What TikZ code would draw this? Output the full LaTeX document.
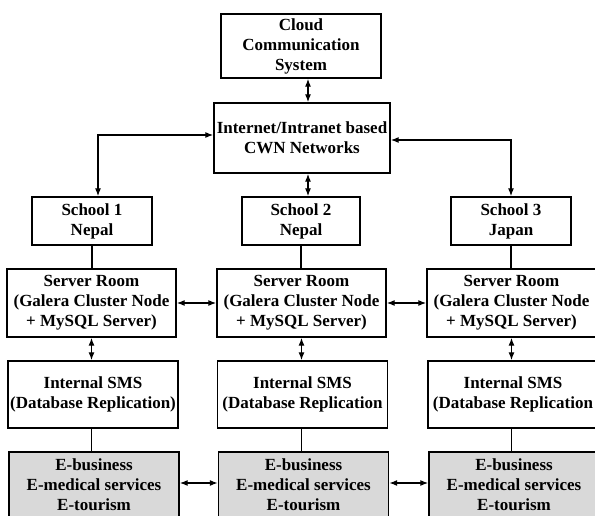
\documentclass[tikz,border=0pt]{standalone}
\usepackage{fontspec}
\setmainfont{Liberation Serif}
\usepackage{tikz}
\usetikzlibrary{arrows.meta}
\usepackage{xcolor}
\definecolor{appgray}{RGB}{217,217,217}
\tikzstyle{block}=[draw, line width=1.4pt, align=center, inner sep=0pt, font=\fontsize{17}{20}\selectfont\bfseries]
\tikzstyle{appblock}=[block, fill=appgray]
\tikzstyle{link}=[line width=1.2pt]
\tikzstyle{biarrow}=[link, {Latex[length=8pt,width=6pt]}-{Latex[length=8pt,width=6pt]}]

\begin{document}
\begin{tikzpicture}[x=1pt,y=-1pt]
		\useasboundingbox (0,0) rectangle (595,516);
		% top part
		\node[block, minimum width=160pt, minimum height=64pt] (cloud) at (301,46) {Cloud\\Communication\\System};
		\node[block, minimum width=176pt, minimum height=70pt] (net) at (302,138) {Internet/Intranet based\\CWN Networks};
		% schools
		\node[block, minimum width=120pt, minimum height=48pt] (school1) at (92,221) {School 1\\Nepal};
		\node[block, minimum width=118pt, minimum height=48pt] (school2) at (301,221) {School 2\\Nepal};
		\node[block, minimum width=120pt, minimum height=48pt] (school3) at (511,221) {School 3\\Japan};
		% server rooms
		\node[block, minimum width=169pt, minimum height=68pt] (server1) at (91.5,303) {Server Room\\(Galera Cluster Node\\+ MySQL Server)};
		\node[block, minimum width=169pt, minimum height=68pt] (server2) at (301.5,303) {Server Room\\(Galera Cluster Node\\+ MySQL Server)};
		\node[block, minimum width=169pt, minimum height=68pt] (server3) at (511.5,303) {Server Room\\(Galera Cluster Node\\+ MySQL Server)};
		% internal sms
		\node[block, minimum width=170pt, minimum height=67pt] (sms1) at (93,394.5) {Internal SMS\\(Database Replication)};
		\node[block, minimum width=170pt, minimum height=67pt] (sms2) at (302.5,394.5) {Internal SMS\\(Database Replication};
		\node[block, minimum width=170pt, minimum height=67pt] (sms3) at (513,394.5) {Internal SMS\\(Database Replication};
		% services
		\node[appblock, minimum width=170pt, minimum height=66pt] (app1) at (94,485) {E-business\\E-medical services\\E-tourism};
		\node[appblock, minimum width=170pt, minimum height=66pt] (app2) at (303.5,485) {E-business\\E-medical services\\E-tourism};
		\node[appblock, minimum width=170pt, minimum height=66pt] (app3) at (514,485) {E-business\\E-medical services\\E-tourism};
		% connectors
		\draw[biarrow] ([xshift=7pt]cloud.south) -- ([xshift=6pt]net.north);
		\draw[biarrow] ([yshift=3pt]net.west) -| ([xshift=6pt]school1.north);
		\draw[biarrow] ([yshift=-2pt]net.east) -| (school3.north);
		\draw[biarrow] ([xshift=6pt]net.south) -- ([xshift=7pt]school2.north);
		\draw[link] (school1.south) -- (school1.south |- server1.north);
		\draw[link] (school2.south) -- (school2.south |- server2.north);
		\draw[link] (school3.south) -- (school3.south |- server3.north);
		\draw[biarrow] (server1.east) -- (server2.west);
		\draw[biarrow] (server2.east) -- (server3.west);
		\draw[biarrow] (server1.south) -- (server1.south |- sms1.north);
		\draw[biarrow] (server2.south) -- (server2.south |- sms2.north);
		\draw[biarrow] (server3.south) -- (server3.south |- sms3.north);
		\draw[link] (sms1.south -| server1.south) -- (server1.south |- app1.north);
		\draw[link] (sms2.south -| server2.south) -- (server2.south |- app2.north);
		\draw[link] (sms3.south -| server3.south) -- (server3.south |- app3.north);
		\draw[biarrow] ([yshift=2pt]app1.east) -- ([yshift=2pt]app2.west);
		\draw[biarrow] ([yshift=2pt]app2.east) -- ([yshift=2pt]app3.west);
	\end{tikzpicture}
\end{document}
